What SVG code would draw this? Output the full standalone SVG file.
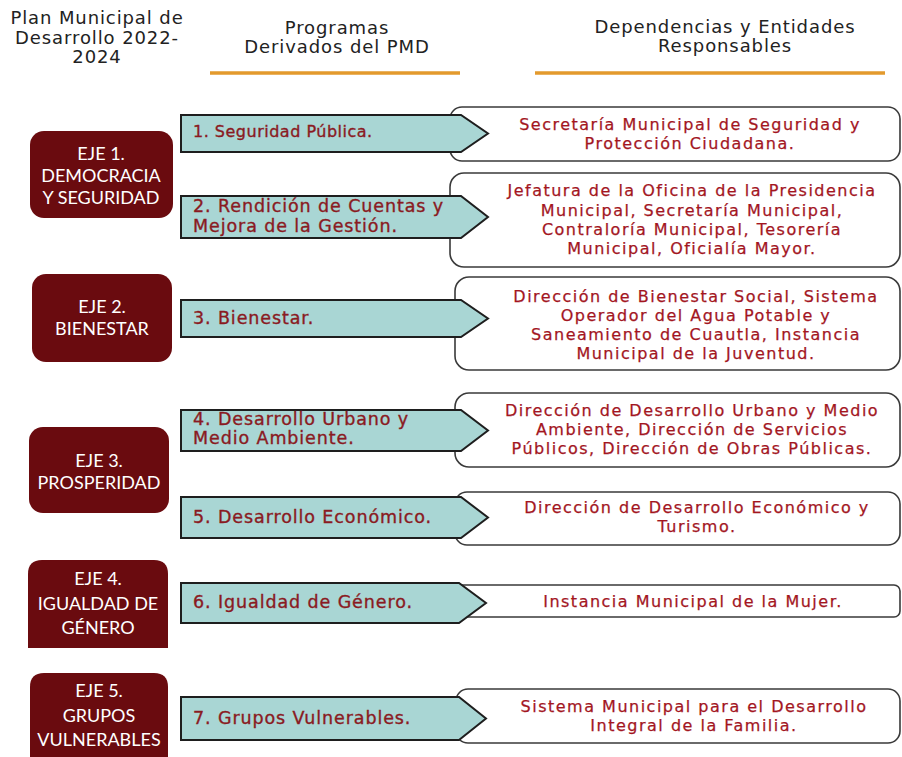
<svg xmlns="http://www.w3.org/2000/svg" width="902" height="757" viewBox="0 0 902 757">
<style>
.hdr{font-family:"DejaVu Sans","Liberation Sans",sans-serif;font-size:18px;letter-spacing:0.9px;fill:#222;text-anchor:middle}
.rule{stroke:#e39a2d;stroke-width:3.5}
.eje{fill:#6a0b0f}
.ejet{font-family:Lato,"Liberation Sans",sans-serif;font-size:18px;fill:#fff;text-anchor:middle}
.arrow{fill:#a9d6d4;stroke:#1e1e1e;stroke-width:2}
.arrt{font-family:"DejaVu Sans","Liberation Sans",sans-serif;font-size:17.5px;letter-spacing:0.9px;fill:#8a1a22;stroke:#8a1a22;stroke-width:0.35}
.arrt1{font-size:16px;letter-spacing:0.5px}
.box{fill:#fff;stroke:#3a3a3a;stroke-width:1.6}
.boxt{font-family:"DejaVu Sans","Liberation Sans",sans-serif;font-size:16px;letter-spacing:1.5px;fill:#a3161f;stroke:#a3161f;stroke-width:0.25;text-anchor:middle}
</style>
<rect width="902" height="757" fill="#fff"/>
<g id="header">
<text class="hdr" x="97" y="24">Plan Municipal de</text>
<text class="hdr" x="97" y="44">Desarrollo 2022-</text>
<text class="hdr" x="97" y="63">2024</text>
<text class="hdr" x="337" y="34">Programas</text>
<text class="hdr" x="337" y="53">Derivados del PMD</text>
<text class="hdr" x="725" y="33">Dependencias y Entidades</text>
<text class="hdr" x="725" y="52">Responsables</text>
<line class="rule" x1="210" y1="73" x2="460" y2="73"/>
<line class="rule" x1="535" y1="73" x2="885" y2="73"/>
</g>
<g id="eje1"><rect class="eje" x="30" y="131" width="143" height="87" rx="14"/>
<text class="ejet" x="101" y="160">EJE 1.</text><text class="ejet" x="101" y="182">DEMOCRACIA</text><text class="ejet" x="101" y="204">Y SEGURIDAD</text></g>
<g id="eje2"><rect class="eje" x="32" y="274" width="140" height="88" rx="14"/>
<text class="ejet" x="102" y="313">EJE 2.</text><text class="ejet" x="102" y="335">BIENESTAR</text></g>
<g id="eje3"><rect class="eje" x="29" y="427" width="140" height="86" rx="14"/>
<text class="ejet" x="99" y="467">EJE 3.</text><text class="ejet" x="99" y="489">PROSPERIDAD</text></g>
<g id="eje4"><path class="eje" d="M42,560 H154 Q168,560 168,574 V648 H28 V574 Q28,560 42,560 Z"/>
<text class="ejet" x="98" y="585">EJE 4.</text><text class="ejet" x="98" y="610">IGUALDAD DE</text><text class="ejet" x="98" y="634">GÉNERO</text></g>
<g id="eje5"><path class="eje" d="M44,673 H154 Q168,673 168,687 V757 H30 V687 Q30,673 44,673 Z"/>
<text class="ejet" x="99" y="697">EJE 5.</text><text class="ejet" x="99" y="722">GRUPOS</text><text class="ejet" x="99" y="746">VULNERABLES</text></g>

<g id="dep1"><rect class="box" x="450" y="107" width="450" height="54" rx="12"/>
<text class="boxt" x="690" y="130">Secretaría Municipal de Seguridad y</text><text class="boxt" x="690" y="149">Protección Ciudadana.</text></g>
<g id="dep2"><rect class="box" x="450" y="173" width="450" height="94" rx="14"/>
<text class="boxt" x="692" y="196">Jefatura de la Oficina de la Presidencia</text><text class="boxt" x="692" y="216">Municipal, Secretaría Municipal,</text><text class="boxt" x="692" y="235">Contraloría Municipal, Tesorería</text><text class="boxt" x="692" y="254">Municipal, Oficialía Mayor.</text></g>
<g id="dep3"><rect class="box" x="455" y="277" width="445" height="93" rx="14"/>
<text class="boxt" x="696" y="302">Dirección  de Bienestar Social, Sistema</text><text class="boxt" x="696" y="321">Operador del Agua Potable y</text><text class="boxt" x="696" y="340">Saneamiento de Cuautla, Instancia</text><text class="boxt" x="696" y="359">Municipal de la Juventud.</text></g>
<g id="dep4"><rect class="box" x="455" y="393" width="445" height="74" rx="14"/>
<text class="boxt" x="692" y="416">Dirección de Desarrollo Urbano y Medio</text><text class="boxt" x="692" y="435">Ambiente, Dirección de Servicios</text><text class="boxt" x="692" y="454">Públicos, Dirección de Obras Públicas.</text></g>
<g id="dep5"><rect class="box" x="455" y="492" width="445" height="53" rx="12"/>
<text class="boxt" x="697" y="513">Dirección de Desarrollo Económico y</text><text class="boxt" x="697" y="532">Turismo.</text></g>
<g id="dep6"><rect class="box" x="456" y="585" width="444" height="32" rx="6"/>
<text class="boxt" x="693" y="607">Instancia Municipal de la Mujer.</text></g>
<g id="dep7"><rect class="box" x="456" y="689" width="444" height="54" rx="12"/>
<text class="boxt" x="694" y="712">Sistema Municipal para el Desarrollo</text><text class="boxt" x="694" y="731">Integral de la Familia.</text></g>

<g id="connectors">
<g id="prog1"><path class="arrow" d="M181,115 H461 L488,133.5 L461,152 H181 Z"/><text class="arrt arrt1" x="193" y="137">1. Seguridad Pública.</text></g>
<g id="prog2"><path class="arrow" d="M181,196 H461 L488,217 L461,238 H181 Z"/><text class="arrt" x="193" y="212">2. Rendición de Cuentas y</text><text class="arrt" x="193" y="232">Mejora  de la Gestión.</text></g>
<g id="prog3"><path class="arrow" d="M181,300 H461 L488,318.5 L461,337 H181 Z"/><text class="arrt" x="193" y="324">3. Bienestar.</text></g>
<g id="prog4"><path class="arrow" d="M181,410 H461 L488,430.5 L461,451 H181 Z"/><text class="arrt" x="193" y="425">4. Desarrollo Urbano y</text><text class="arrt" x="193" y="444">Medio Ambiente.</text></g>
<g id="prog5"><path class="arrow" d="M181,497 H461 L488,517.5 L461,538 H181 Z"/><text class="arrt" x="193" y="523">5. Desarrollo Económico.</text></g>
<g id="prog6"><path class="arrow" d="M181,583 H459 L486,603 L459,623 H181 Z"/><text class="arrt" x="193" y="608">6. Igualdad de Género.</text></g>
<g id="prog7"><path class="arrow" d="M181,697 H459 L486,718.5 L459,740 H181 Z"/><text class="arrt" x="193" y="724">7. Grupos Vulnerables.</text></g>
</g>
</svg>
